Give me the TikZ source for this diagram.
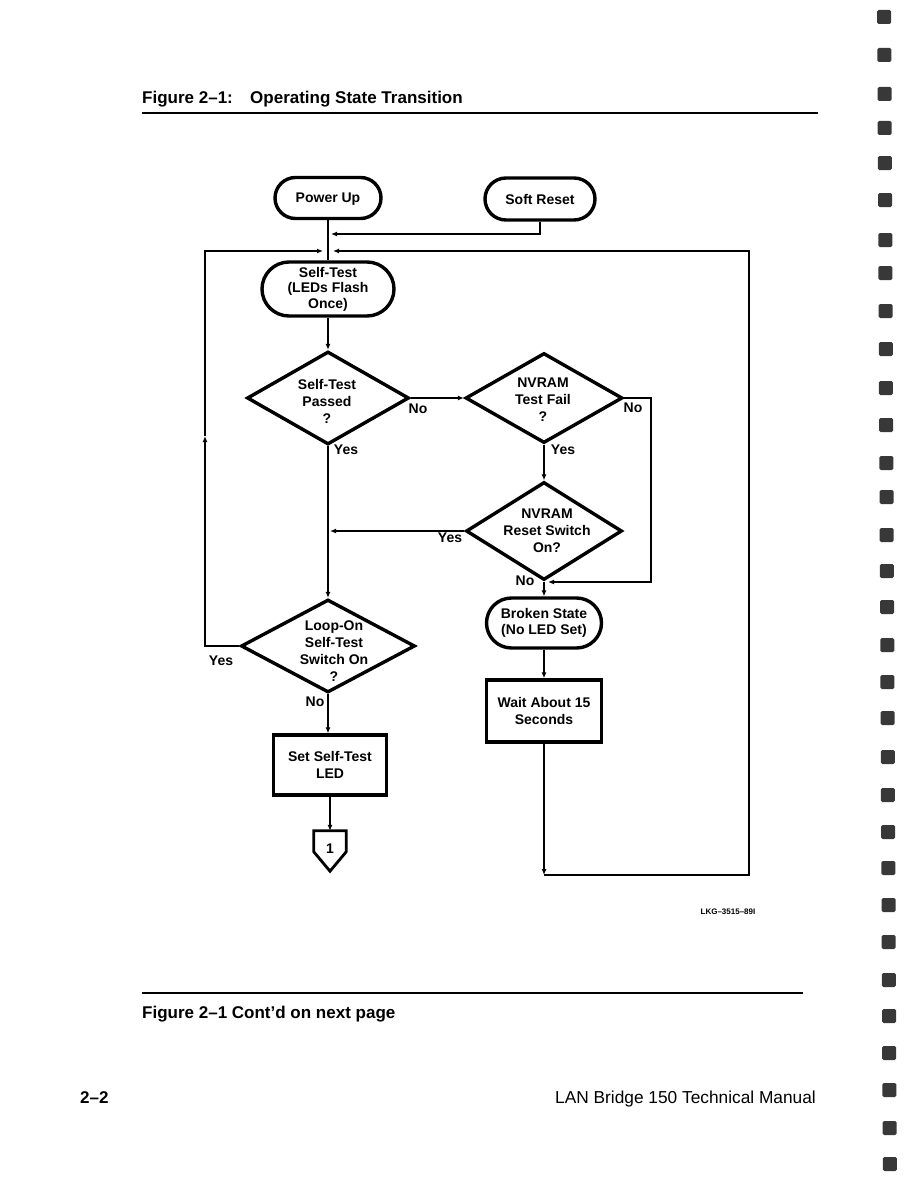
\documentclass[tikz,border=0pt]{standalone}
\usepackage{fontspec}
\setmainfont{Liberation Sans}
\usetikzlibrary{shapes.geometric,shapes.misc,arrows.meta}
\begin{document}
\begin{tikzpicture}[x=1pt,y=-1pt,
  every node/.style={inner sep=0pt},
  shapeline/.style={draw=black, line width=3.4pt},
  term/.style={shapeline, rounded rectangle, align=center, font=\fontsize{14}{15.5}\selectfont\bfseries},
  procbox/.style={shapeline, rectangle, align=center, font=\fontsize{14}{16.5}\selectfont\bfseries},
  dec/.style={shapeline, diamond},
  dtext/.style={align=center, font=\fontsize{14}{17}\selectfont\bfseries},
  lab/.style={font=\fontsize{14}{16}\selectfont\bfseries},
  conn/.style={draw=black, line width=2.2pt},
  tip/.style={-{Latex[length=6pt,width=5pt]}},
  marksq/.style={fill=black!78, rounded corners=1.5pt},
  pagetext/.style={anchor=base west, font=\fontsize{17}{20}\selectfont\bfseries}
]
\useasboundingbox (0,0) rectangle (918,1188);
\fill[white] (0,0) rectangle (918,1188);

% header
\node[pagetext] (title1) at (142,104) {Figure 2--1:};
\node[pagetext] (title2) at (250,104) {Operating State Transition};
\draw[line width=2.6pt] (142,113) -- (818,113);

% nodes
\node[term, minimum width=106pt, minimum height=41pt, text depth=0pt] (pu) at (328,198) {Power Up};
\node[term, minimum width=110pt, minimum height=42pt] (sr) at (540,199) {Soft Reset};
\node[term, minimum width=132pt, minimum height=54pt] (st) at (328,289) {Self-Test\\(LEDs Flash\\Once)};

\node[dec, minimum width=162pt, minimum height=93pt] (d1) at (328,398) {};
\node[dtext] at (327,401) {Self-Test\\Passed\\?};
\node[dec, minimum width=157pt, minimum height=90pt] (d2) at (544,398) {};
\node[dtext] at (543,400) {NVRAM\\Test Fail\\?};
\node[dec, minimum width=156pt, minimum height=98pt] (d3) at (544,531) {};
\node[dtext] at (547,531) {NVRAM\\Reset Switch\\On?};
\node[dec, minimum width=174pt, minimum height=93pt] (d4) at (328,646) {};
\node[dtext] at (334,651) {Loop-On\\Self-Test\\Switch On\\?};

\node[term, minimum width=115pt, minimum height=50pt] (bs) at (544,623) {Broken State\\(No LED Set)};
\node[procbox, minimum width=115pt, minimum height=62pt] (wait) at (544,711) {Wait About 15\\Seconds};
\node[procbox, minimum width=113pt, minimum height=60pt] (set) at (330,765) {Set Self-Test\\LED};

\node[minimum width=32pt, minimum height=40pt, font=\fontsize{14}{16}\selectfont\bfseries] (c1) at (330,851) {\raisebox{4pt}{1}};
\draw[shapeline, line width=2.8pt, line join=miter] (c1.north west) -- (c1.north east) -- ([yshift=-21pt]c1.north east)
  -- (c1.south) -- ([yshift=-21pt]c1.north west) -- cycle;

% coordinates
\coordinate (sj) at (331,234);
\coordinate (tl) at (205,251);
\coordinate (tr) at (749,251);
\coordinate (jl) at (323,251);
\coordinate (jr) at (333,251);
\coordinate (ll) at (205,646);
\coordinate (lm) at (205,436);
\coordinate (bl) at (544,875);
\coordinate (br) at (749,875);
\coordinate (rb) at (651,582);
\coordinate (jn) at (548,582);
\coordinate (jy) at (330,531);

% connectors
\draw[conn] (pu.south) -- (st.north);
\draw[conn, tip] (sr.south) |- (sj);
\draw[conn, tip] (st.south) -- (d1.north);
\draw[conn, tip] (d1.east) -- (d2.west);
\draw[conn, tip] (d2.south) -- (d3.north);
\draw[conn, tip] (d2.east) -| (rb) -- (jn);
\draw[conn, tip] (d3.west) -- (jy);
\draw[conn, tip] (d3.south) -- (bs.north);
\draw[conn, tip] (bs.south) -- (wait.north);
\draw[conn, tip] (d1.south) -- (d4.north);
\draw[conn, tip] (d4.south) -- (d4.south |- set.north);
\draw[conn, tip] (set.south) -- (c1.north);
\draw[conn, tip] (d4.west) -- (ll) -- (lm);
\draw[conn, tip] (lm) -- (tl) -- (jl);
\draw[conn, tip] (wait.south) -- (bl);
\draw[conn, tip] (bl) -- (br) -- (tr) -- (jr);

% branch labels
\node[lab] at (418,409) {No};
\node[lab] at (633,408) {No};
\node[lab] at (563,450) {Yes};
\node[lab] at (346,450) {Yes};
\node[lab] at (450,538) {Yes};
\node[lab] at (525,581) {No};
\node[lab] at (221,661) {Yes};
\node[lab] at (315,702) {No};

\node[font=\fontsize{8}{9}\selectfont\bfseries] (code) at (728,912) {LKG--3515--89I};

% footer
\draw[line width=2.6pt] (142,993) -- (803,993);
\node[pagetext] (cont) at (142,1018) {Figure 2--1 Cont'd on next page};
\node[pagetext] (pg) at (80,1103) {2--2};
\node[pagetext, font=\fontsize{17.3}{20}\selectfont] (man) at (555,1103) {LAN Bridge 150 Technical Manual};

% margin marks
\foreach \yy [count=\i] in {17,55,94,128,163,200,240,273,311,349,388,425,463,497,535,571,607,645,682,718,757,795,832,868,905,942,980,1016,1053,1090,1128,1164}
  \fill[marksq] ({877+\i*0.18},\yy-7) rectangle ++(14,14);
\end{tikzpicture}
\end{document}
